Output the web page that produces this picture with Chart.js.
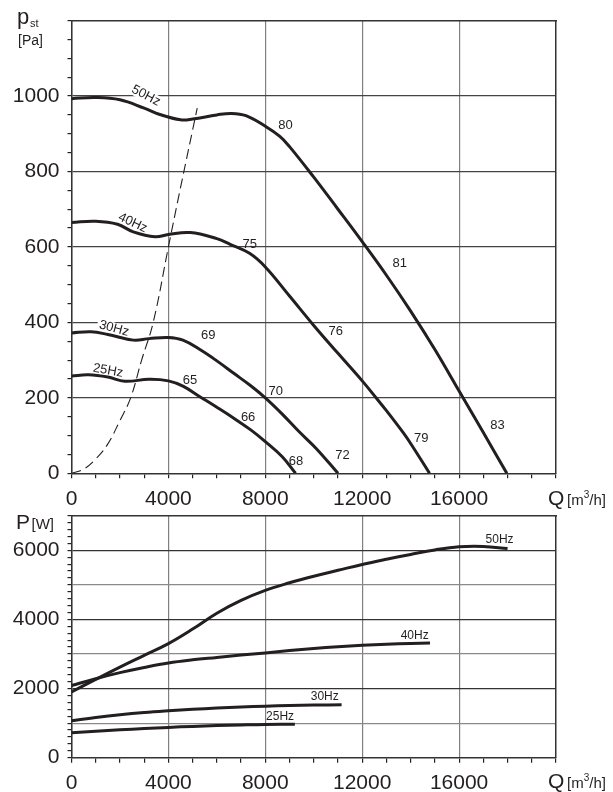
<!DOCTYPE html>
<html><head><meta charset="utf-8">
<script src="https://cdn.jsdelivr.net/npm/chart.js@4.4.1/dist/chart.umd.min.js"></script>
<style>
html,body{margin:0;padding:0;background:#fff;}
#wrap{position:relative;width:613px;height:792px;background:#fff;}
canvas{position:absolute;left:0;top:0;}
</style></head><body>
<div id="wrap"><canvas id="c1" width="613" height="792"></canvas><canvas id="c2" width="613" height="792"></canvas></div>
<script>
// ---------- tick labels ----------
const Q_TICKS = [0, 4000, 8000, 12000, 16000];
const PST_TICKS = [0, 200, 400, 600, 800, 1000];
const P_TICKS = [0, 2000, 4000, 6000];

// ---------- static pressure curves (Q m3/h, p Pa) ----------
const pst50Q = [0, 1000, 2000, 3000, 3650, 4500, 5000, 6000, 6600, 7200, 8000, 8600, 9000, 10000, 11000, 12000, 13000, 14000, 15000, 16000, 17000, 17970];
const pst50  = [993, 996, 990, 968, 951, 937, 939, 950, 954, 948, 920, 893, 866, 785, 700, 614, 525, 430, 328, 218, 108, 0];

const pst40Q = [0, 1000, 1900, 2550, 3450, 4000, 4900, 6000, 6550, 7350, 8000, 9000, 10000, 11000, 12000, 12500, 13000, 13700, 14000, 14780];
const pst40  = [665, 668, 660, 640, 627, 633, 638, 622, 607, 583, 547, 470, 392, 318, 245, 206, 166, 107, 79, 0];

const pst30Q = [0, 800, 1500, 2550, 3200, 4000, 4600, 5300, 6000, 6700, 7400, 8000, 8700, 9400, 10100, 11000];
const pst30  = [372, 375, 368, 353, 357, 360, 353, 328, 298, 265, 232, 200, 157, 110, 66, 0];

const pst25Q = [0, 700, 1500, 2200, 3200, 4000, 4600, 5300, 6000, 6700, 7400, 8000, 8700, 9250];
const pst25  = [258, 261, 255, 244, 249, 245, 231, 203, 175, 146, 115, 84, 44, 0];

// system (dashed) curve
const sysQ = [0, 500, 1000, 1500, 2000, 2441, 2894, 3373, 4000, 4500, 5190];
const sysP = [0, 11, 38, 78, 140, 200, 300, 400, 600, 757, 968];

// ---------- power curves (Q m3/h, P W) ----------
const pw50Q = [0, 1000, 2000, 3000, 4000, 5000, 6000, 7000, 8000, 9000, 10000, 11000, 12000, 13000, 14000, 15000, 16000, 17000, 18000];
const pw50  = [1900, 2265, 2620, 2960, 3300, 3720, 4180, 4550, 4840, 5060, 5250, 5420, 5590, 5740, 5880, 6010, 6100, 6110, 6050];

const pw40Q = [0, 1000, 2000, 3000, 4000, 5000, 6000, 7000, 8000, 9000, 10000, 11000, 12000, 13000, 14000, 14800];
const pw40  = [2090, 2285, 2460, 2610, 2740, 2830, 2900, 2970, 3030, 3100, 3160, 3210, 3250, 3280, 3305, 3320];

const pw30Q = [0, 1000, 2000, 3000, 4000, 5000, 6000, 7000, 8000, 9000, 10000, 11150];
const pw30  = [1067, 1160, 1240, 1305, 1356, 1400, 1435, 1465, 1491, 1510, 1522, 1530];

const pw25Q = [0, 1000, 2000, 3000, 4000, 5000, 6000, 7000, 8000, 9220];
const pw25  = [721, 765, 805, 845, 877, 905, 928, 948, 963, 965];

// ---------- curve annotations (text, Q, value, rotation) ----------
const hzTopLabels = [['50Hz', 3072, 1001, 28], ['40Hz', 2524, 664, 25], ['30Hz', 1753, 384, 15], ['25Hz', 1505, 272, 10]];
const numTopLabels = [['80', 8837, 923], ['75', 7361, 607], ['81', 13546, 557], ['76', 10907, 375], ['70', 8433, 218],
  ['66', 7291, 147], ['79', 14441, 93], ['83', 17588, 127], ['68', 9270, 32], ['72', 11183, 48], ['69', 5641, 366], ['65', 4887, 247]];
const hzBotLabels = [['50Hz', 17670, 6317], ['40Hz', 14165, 3516], ['30Hz', 10454, 1751], ['25Hz', 8610, 1197]];

// ---------- styling ----------
const FONT = "'Liberation Sans', Arial, Helvetica, sans-serif";
const INK = '#231f20';
const TICK_FONT = 21;

function series(qs, vs, dash, width) {
  return {
    data: qs.map((q, i) => ({ x: q, y: vs[i] })),
    borderColor: INK, borderWidth: width, borderDash: dash || [],
    pointRadius: 0, fill: false, tension: 0.4, borderCapStyle: 'butt', borderJoinStyle: 'round'
  };
}

function drawLabel(ctx, txt, x, y, size, rot, knock) {
  ctx.save();
  ctx.translate(x, y);
  if (rot) ctx.rotate(rot * Math.PI / 180);
  ctx.font = size + 'px ' + FONT;
  ctx.textAlign = 'center';
  ctx.textBaseline = 'middle';
  if (knock) {
    const w = ctx.measureText(txt).width;
    ctx.fillStyle = '#fff';
    ctx.fillRect(-w / 2 - 2, -size * 0.45, w + 4, size * 0.9);
  } else {
    ctx.fillStyle = INK;
    ctx.fillText(txt, 0, 0);
  }
  ctx.restore();
}

function qTitle(ctx, baseY) {
  ctx.fillStyle = INK;
  ctx.textAlign = 'left';
  ctx.textBaseline = 'alphabetic';
  ctx.font = '21px ' + FONT;
  ctx.fillText('Q', 548, baseY);
  ctx.font = '15px ' + FONT;
  let x = 567;
  ctx.fillText('[m', x, baseY);
  x += ctx.measureText('[m').width;
  ctx.font = '10px ' + FONT;
  ctx.fillText('3', x, baseY - 7);
  x += ctx.measureText('3').width;
  ctx.font = '15px ' + FONT;
  ctx.fillText('/h]', x, baseY);
}

function xScale(pos, fitHeight, showTicks) {
  return {
    type: 'linear', position: pos, min: 0, max: 20000,
    afterFit: s => { s.height = fitHeight; },
    border: { display: true, color: '#333', width: 1.5 },
    grid: showTicks ? {
      color: c => (c.tick && Q_TICKS.includes(c.tick.value)) ? '#808080' : 'rgba(0,0,0,0)',
      tickColor: '#222', tickLength: 5, lineWidth: 1.2, tickWidth: 1.2
    } : { display: false, drawTicks: false },
    ticks: showTicks ? {
      stepSize: 1000, maxTicksLimit: 1000, autoSkip: false, maxRotation: 0, padding: 8,
      color: INK, font: { family: FONT, size: TICK_FONT },
      callback: v => Q_TICKS.includes(v) ? String(v) : ''
    } : { display: false }
  };
}

function yScale(pos, fitWidth, max, step, labels, gridFn, showTicks) {
  return {
    type: 'linear', position: pos, min: 0, max: max,
    afterFit: s => { s.width = fitWidth; },
    border: { display: true, color: '#333', width: 1.5 },
    grid: showTicks ? {
      color: gridFn, tickColor: '#222', tickLength: 4, lineWidth: 1.2, tickWidth: 1.2
    } : { display: false, drawTicks: false },
    ticks: showTicks ? {
      stepSize: step, maxTicksLimit: 1000, autoSkip: false, padding: 8,
      color: INK, font: { family: FONT, size: TICK_FONT },
      callback: v => labels.includes(v) ? String(v) : ''
    } : { display: false }
  };
}

const commonOpts = {
  responsive: false, animation: false, devicePixelRatio: 1,
  layout: { padding: 0 },
  plugins: { legend: { display: false }, tooltip: { enabled: false } },
  elements: { point: { radius: 0 } }
};

// ---------- top chart: static pressure ----------
const topPlugin = {
  id: 'topText',
  beforeDatasetsDraw(chart) {
    const ctx = chart.ctx, sx = chart.scales.x, sy = chart.scales.y;
    hzTopLabels.forEach(l => drawLabel(ctx, l[0], sx.getPixelForValue(l[1]), sy.getPixelForValue(l[2]), 13, l[3], true));
  },
  afterDraw(chart) {
    const ctx = chart.ctx, sx = chart.scales.x, sy = chart.scales.y;
    ctx.save();
    hzTopLabels.forEach(l => drawLabel(ctx, l[0], sx.getPixelForValue(l[1]), sy.getPixelForValue(l[2]), 13, l[3], false));
    numTopLabels.forEach(l => drawLabel(ctx, l[0], sx.getPixelForValue(l[1]), sy.getPixelForValue(l[2]), 13, 0, false));
    ctx.fillStyle = INK; ctx.textAlign = 'left'; ctx.textBaseline = 'alphabetic';
    ctx.font = '22px ' + FONT; ctx.fillText('p', 17, 24);
    ctx.font = '11px ' + FONT; ctx.fillText('st', 30, 26.5);
    ctx.font = '14px ' + FONT; ctx.textAlign = 'center'; ctx.fillText('[Pa]', 30.5, 44.5);
    qTitle(ctx, 505);
    ctx.restore();
  }
};

new Chart(document.getElementById('c1'), {
  type: 'line',
  data: {
    datasets: [
      series(pst50Q, pst50, null, 3),
      series(pst40Q, pst40, null, 3),
      series(pst30Q, pst30, null, 3),
      series(pst25Q, pst25, null, 3),
      series(sysQ, sysP, [10, 5], 1.1)
    ]
  },
  options: Object.assign({}, commonOpts, {
    scales: {
      x: xScale('bottom', 792 - 473.3, true),
      x2: xScale('top', 20, false),
      y: yScale('left', 71.5, 1200, 50, PST_TICKS,
        c => (c.tick && c.tick.value % 200 === 0 && c.tick.value > 0 && c.tick.value < 1200) ? '#444' : 'rgba(0,0,0,0)', true),
      y2: yScale('right', 613 - 556, 1200, 50, PST_TICKS, null, false)
    }
  }),
  plugins: [topPlugin]
});

// ---------- bottom chart: power ----------
const botPlugin = {
  id: 'botText',
  afterDraw(chart) {
    const ctx = chart.ctx, sx = chart.scales.x, sy = chart.scales.y;
    ctx.save();
    hzBotLabels.forEach(l => drawLabel(ctx, l[0], sx.getPixelForValue(l[1]), sy.getPixelForValue(l[2]), 12, 0, false));
    ctx.fillStyle = INK; ctx.textAlign = 'left'; ctx.textBaseline = 'alphabetic';
    ctx.font = '21px ' + FONT; ctx.fillText('P', 16, 529.3);
    ctx.font = '15px ' + FONT; ctx.fillText('[W]', 31.5, 529);
    qTitle(ctx, 788);
    ctx.restore();
  }
};

new Chart(document.getElementById('c2'), {
  type: 'line',
  data: {
    datasets: [
      series(pw50Q, pw50, null, 3),
      series(pw40Q, pw40, null, 3),
      series(pw30Q, pw30, null, 3),
      series(pw25Q, pw25, null, 3)
    ]
  },
  options: Object.assign({}, commonOpts, {
    scales: {
      x: xScale('bottom', 792 - 757.7, true),
      x2: xScale('top', 515.7, false),
      y: yScale('left', 71.5, 7000, 200, P_TICKS,
        c => {
          if (!c.tick) return 'rgba(0,0,0,0)';
          const v = Math.round(c.tick.value);
          if (v <= 0 || v >= 7000 || v % 1000 !== 0) return 'rgba(0,0,0,0)';
          return (v % 2000 === 0) ? '#333' : '#8a8a8a';
        }, true),
      y2: yScale('right', 613 - 556, 7000, 200, P_TICKS, null, false)
    }
  }),
  plugins: [botPlugin]
});
</script>
</body></html>
